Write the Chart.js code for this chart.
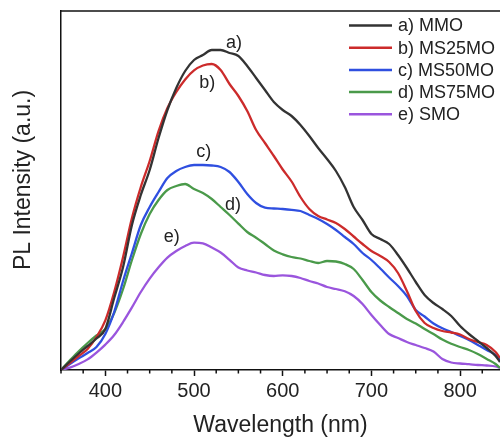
<!DOCTYPE html>
<html><head><meta charset="utf-8">
<script src="https://cdn.jsdelivr.net/npm/chart.js@4/dist/chart.umd.min.js"></script>
<style>html,body{margin:0;padding:0;background:#fff;}#wrap{width:500px;height:437px;position:relative;}</style>
</head><body><div id="wrap"><canvas id="c" width="500" height="437"></canvas></div>
<script>
const wavelength = [350,360,370,380,390,400,410,420,430,440,450,460,470,480,490,500,510,520,530,540,550,560,570,580,590,600,610,620,630,640,650,660,670,680,690,700,710,720,730,740,750,760,770,780,790,800,810,820,830,840,845];
const mmo   = [0,8.5,16.5,24,31.5,41,72,103,145,175,200,232,260,282,299,310,315,320,320,317,314,304,292,280,268,260,254,245,234,222,211,199,183,163,150,136,131,126,115,102,88,75,67,61,54,44,36,29,22,14,8];
const ms25  = [0,7,14,21,33,49.6,78,113,152,183,209,239,262,278,290.6,299.6,304.5,306,300,286,274,259,240,227,214,200.5,188.5,173,161,154,150.5,147,141,133.5,126,119,114,108,97,79,59,47,42,39,37.5,35.5,31,28,25,18,12];
const ms50  = [0,6,11.7,17,23,36,58,89,117,145,163,178,192,199,203,205,205,204.5,203,198,188,176,167,162.3,161.5,161,160.2,159,155,151,146,140,133,126,117,110,101.5,92.5,84,74,60,53.5,46.5,41.7,38,34,30,25,20,15,10];
const ms75  = [0,9.6,18.8,27,34.5,41,57,81,110,136,156,170,180,184,186,181,177,171,163,155,146.4,138,132.3,126,119.6,115.7,113,111.5,109,107,109,108.5,106,101,90,78,69.5,63,57,51,46.5,41,36,30.4,26.2,23,20,16,11,6,2];
const smo   = [0,2.4,6,10.6,17.4,25.4,35,48,62.6,78,91.4,102.7,112.4,119,124,127.4,126.7,122.5,117.5,110.2,102.5,99.5,97.5,95,94,94.7,94,92,89,86.5,83,81,78.7,74,66,55,45,36,32,28,25,22,18.5,11,7.5,6.5,5.8,5,4.5,3.5,2];

const seriesNames  = ['a) MMO','b) MS25MO','c) MS50MO','d) MS75MO','e) SMO'];
const seriesColors = ['#333333','#cc2b2b','#2f4fe0','#4a9a4a','#9a55dd'];
const curveTags    = ['a)','b)','c)','d)','e)'];
const tagWavelength = [545, 515, 511, 544, 475];
const tagValue      = [327, 287, 218, 165, 133];
const majorTicks = [400,500,600,700,800];
const minorTicks = [350,375,425,450,475,525,550,575,625,650,675,725,750,775,825];
const xTitle = 'Wavelength (nm)';
const yTitle = 'PL Intensity (a.u.)';
const FONT = '"Liberation Sans", Arial, sans-serif';

Chart.defaults.font.family = FONT;
const allSeries = [mmo, ms25, ms50, ms75, smo];

const decor = {
  id: 'decor',
  afterDraw(chart) {
    const {ctx, chartArea: a, scales: {x, y}} = chart;
    ctx.save();
    ctx.strokeStyle = '#111'; ctx.lineWidth = 1.5;
    ctx.beginPath(); ctx.moveTo(a.left - 0.75, a.top); ctx.lineTo(a.right, a.top); ctx.stroke();
    ctx.beginPath();
    minorTicks.forEach(v => { const px = x.getPixelForValue(v); ctx.moveTo(px, a.bottom); ctx.lineTo(px, a.bottom + 3.5); });
    ctx.stroke();
    ctx.restore();

    ctx.save();
    ctx.fillStyle = '#222';
    ctx.font = '23px ' + FONT;
    ctx.textAlign = 'center'; ctx.textBaseline = 'middle';
    ctx.translate(24, 180); ctx.rotate(-Math.PI / 2);
    ctx.fillText(yTitle, 0, 0);
    ctx.restore();

    ctx.save();
    ctx.font = '18px ' + FONT;
    ctx.textBaseline = 'middle'; ctx.textAlign = 'left';
    chart.data.datasets.forEach((ds, i) => {
      const yy = 25.5 + i * 22.2;
      ctx.strokeStyle = ds.borderColor; ctx.lineWidth = 2.5;
      ctx.beginPath(); ctx.moveTo(349, yy); ctx.lineTo(392, yy); ctx.stroke();
      ctx.fillStyle = '#222';
      ctx.fillText(ds.label, 398, yy + 1);
    });
    ctx.textAlign = 'center';
    curveTags.forEach((t, i) => {
      ctx.fillText(t, x.getPixelForValue(tagWavelength[i]), y.getPixelForValue(tagValue[i]));
    });
    ctx.restore();
  }
};

new Chart(document.getElementById('c'), {
  type: 'line',
  data: {
    labels: wavelength,
    datasets: allSeries.map((s, i) => ({
      label: seriesNames[i],
      data: s.map((v, j) => ({x: wavelength[j], y: v})),
      borderColor: seriesColors[i],
      borderWidth: 2.3,
      pointRadius: 0,
      fill: false,
      cubicInterpolationMode: 'monotone'
    }))
  },
  options: {
    responsive: false,
    animation: false,
    devicePixelRatio: 1,
    layout: {padding: {top: 11, right: 0, left: 0, bottom: 0}},
    plugins: {legend: {display: false}, tooltip: {enabled: false}},
    scales: {
      x: {
        type: 'linear', min: 350, max: 845, position: 'bottom',
        afterFit: s => { s.height = 67; },
        afterBuildTicks: s => { s.ticks = majorTicks.map(v => ({value: v})); },
        ticks: {font: {size: 20}, color: '#222', padding: 3, maxRotation: 0, autoSkip: false},
        grid: {drawOnChartArea: false, drawTicks: true, tickLength: 6, tickWidth: 1.5, tickColor: '#111'},
        border: {display: true, color: '#111', width: 1.5},
        title: {display: true, text: xTitle, font: {size: 23, lineHeight: 1}, padding: {top: 0, bottom: 0}, color: '#222'}
      },
      y: {
        type: 'linear', min: 0, max: 359,
        afterFit: s => { s.width = 61; },
        ticks: {display: false},
        grid: {drawOnChartArea: false, drawTicks: false},
        border: {display: true, color: '#111', width: 1.5},
        title: {display: false}
      }
    }
  },
  plugins: [decor]
});
</script>
</body></html>
